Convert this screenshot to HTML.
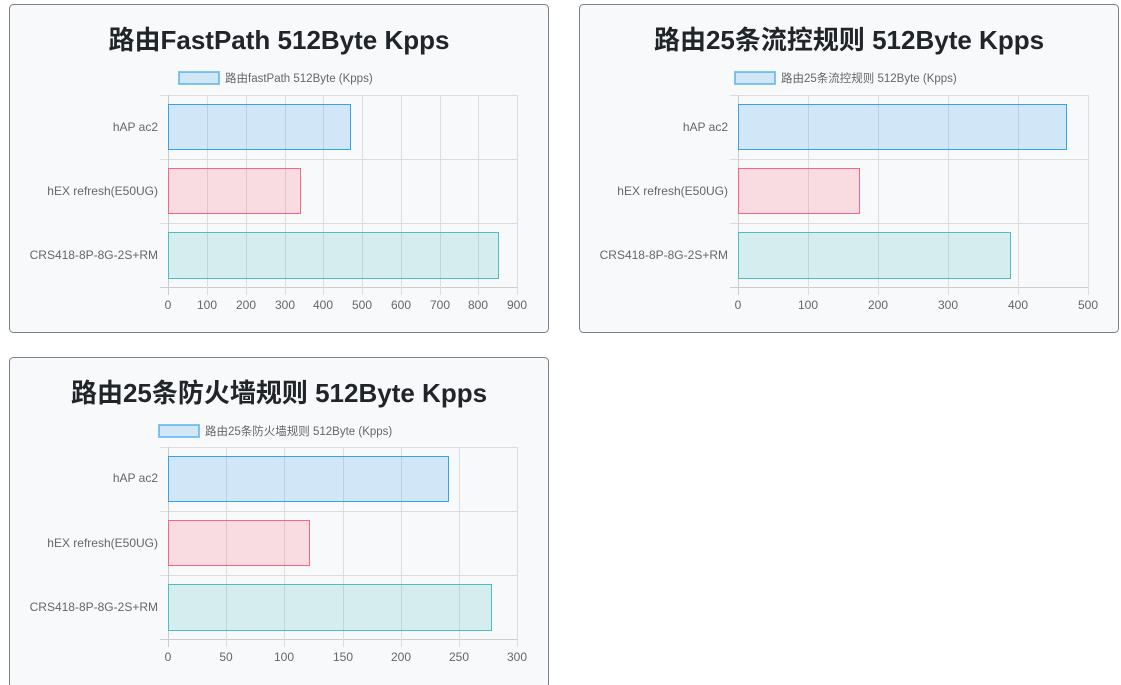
<!DOCTYPE html>
<html><head><meta charset="utf-8"><style>
html,body{margin:0;padding:0;background:#fff;width:1121px;height:685px;overflow:hidden}
svg{display:block}
.t{font-family:"Liberation Sans","Noto Sans CJK SC",sans-serif;font-weight:bold;font-size:26px;fill:#212529}
.l{font-family:"Liberation Sans","Noto Sans CJK SC",sans-serif;font-size:11.5px;fill:#666}
.c{font-family:"Liberation Sans","Noto Sans CJK SC",sans-serif;font-size:12px;fill:#666}
.g{stroke:#ddd;stroke-width:1}
</style></head><body>
<svg width="1121" height="685" xmlns="http://www.w3.org/2000/svg">
<!-- panels -->
<rect x="9.5" y="4.5" width="539" height="328" rx="4" fill="#f8f9fa" stroke="#7a818a"/>
<rect x="579.5" y="4.5" width="539" height="328" rx="4" fill="#f8f9fa" stroke="#7a818a"/>
<rect x="9.5" y="357.5" width="539" height="330" rx="4" fill="#f8f9fa" stroke="#7a818a"/>

<!-- Chart 1 -->
<g>
<text class="t" x="279" y="49" text-anchor="middle">路由FastPath 512Byte Kpps</text>
<rect x="179" y="72" width="40" height="12" fill="rgba(54,162,235,0.2)" stroke="rgba(54,162,235,0.6)" stroke-width="2"/>
<text class="l" x="225" y="82">路由fastPath 512Byte (Kpps)</text>
<g class="g">
<line x1="160" y1="95.5" x2="517" y2="95.5"/><line x1="160" y1="159.5" x2="517" y2="159.5"/><line x1="160" y1="223.5" x2="517" y2="223.5"/><line x1="160" y1="287.5" x2="517" y2="287.5" stroke="#ccc"/>
<line x1="168.5" y1="95" x2="168.5" y2="295" stroke="#ccc"/><line x1="207.5" y1="95" x2="207.5" y2="295"/><line x1="246.5" y1="95" x2="246.5" y2="295"/><line x1="285.5" y1="95" x2="285.5" y2="295"/><line x1="323.5" y1="95" x2="323.5" y2="295"/><line x1="362.5" y1="95" x2="362.5" y2="295"/><line x1="401.5" y1="95" x2="401.5" y2="295"/><line x1="440.5" y1="95" x2="440.5" y2="295"/><line x1="478.5" y1="95" x2="478.5" y2="295"/><line x1="517.5" y1="95" x2="517.5" y2="295"/>
</g>
<rect x="168.5" y="104.5" width="182" height="45" fill="rgba(54,162,235,0.2)" stroke="rgb(54,162,235)"/>
<rect x="168.5" y="168.5" width="132" height="45" fill="rgba(255,99,132,0.2)" stroke="rgb(255,99,132)"/>
<rect x="168.5" y="232.5" width="330" height="46" fill="rgba(75,192,192,0.2)" stroke="rgb(75,192,192)"/>
<g class="c" text-anchor="end"><text x="158" y="131">hAP ac2</text><text x="158" y="195">hEX refresh(E50UG)</text><text x="158" y="259">CRS418-8P-8G-2S+RM</text></g>
<g class="c" text-anchor="middle"><text x="168" y="309">0</text><text x="207" y="309">100</text><text x="246" y="309">200</text><text x="285" y="309">300</text><text x="323" y="309">400</text><text x="362" y="309">500</text><text x="401" y="309">600</text><text x="440" y="309">700</text><text x="478" y="309">800</text><text x="517" y="309">900</text></g>
</g>

<!-- Chart 2 -->
<g>
<text class="t" x="849" y="49" text-anchor="middle">路由25条流控规则 512Byte Kpps</text>
<rect x="735" y="72" width="40" height="12" fill="rgba(54,162,235,0.2)" stroke="rgba(54,162,235,0.6)" stroke-width="2"/>
<text class="l" x="781" y="82">路由25条流控规则 512Byte (Kpps)</text>
<g class="g">
<line x1="730" y1="95.5" x2="1088" y2="95.5"/><line x1="730" y1="159.5" x2="1088" y2="159.5"/><line x1="730" y1="223.5" x2="1088" y2="223.5"/><line x1="730" y1="287.5" x2="1088" y2="287.5" stroke="#ccc"/>
<line x1="738.5" y1="95" x2="738.5" y2="295" stroke="#ccc"/><line x1="808.5" y1="95" x2="808.5" y2="295"/><line x1="878.5" y1="95" x2="878.5" y2="295"/><line x1="948.5" y1="95" x2="948.5" y2="295"/><line x1="1018.5" y1="95" x2="1018.5" y2="295"/><line x1="1088.5" y1="95" x2="1088.5" y2="295"/>
</g>
<rect x="738.5" y="104.5" width="328" height="45" fill="rgba(54,162,235,0.2)" stroke="rgb(54,162,235)"/>
<rect x="738.5" y="168.5" width="121" height="45" fill="rgba(255,99,132,0.2)" stroke="rgb(255,99,132)"/>
<rect x="738.5" y="232.5" width="272" height="46" fill="rgba(75,192,192,0.2)" stroke="rgb(75,192,192)"/>
<g class="c" text-anchor="end"><text x="728" y="131">hAP ac2</text><text x="728" y="195">hEX refresh(E50UG)</text><text x="728" y="259">CRS418-8P-8G-2S+RM</text></g>
<g class="c" text-anchor="middle"><text x="738" y="309">0</text><text x="808" y="309">100</text><text x="878" y="309">200</text><text x="948" y="309">300</text><text x="1018" y="309">400</text><text x="1088" y="309">500</text></g>
</g>

<!-- Chart 3 -->
<g transform="translate(0,352)">
<text class="t" x="279" y="50" text-anchor="middle">路由25条防火墙规则 512Byte Kpps</text>
<rect x="159" y="73" width="40" height="12" fill="rgba(54,162,235,0.2)" stroke="rgba(54,162,235,0.6)" stroke-width="2"/>
<text class="l" x="205" y="83">路由25条防火墙规则 512Byte (Kpps)</text>
<g class="g">
<line x1="160" y1="95.5" x2="517" y2="95.5"/><line x1="160" y1="159.5" x2="517" y2="159.5"/><line x1="160" y1="223.5" x2="517" y2="223.5"/><line x1="160" y1="287.5" x2="517" y2="287.5" stroke="#ccc"/>
<line x1="168.5" y1="95" x2="168.5" y2="295" stroke="#ccc"/><line x1="226.5" y1="95" x2="226.5" y2="295"/><line x1="284.5" y1="95" x2="284.5" y2="295"/><line x1="343.5" y1="95" x2="343.5" y2="295"/><line x1="401.5" y1="95" x2="401.5" y2="295"/><line x1="459.5" y1="95" x2="459.5" y2="295"/><line x1="517.5" y1="95" x2="517.5" y2="295"/>
</g>
<rect x="168.5" y="104.5" width="280" height="45" fill="rgba(54,162,235,0.2)" stroke="rgb(54,162,235)"/>
<rect x="168.5" y="168.5" width="141" height="45" fill="rgba(255,99,132,0.2)" stroke="rgb(255,99,132)"/>
<rect x="168.5" y="232.5" width="323" height="46" fill="rgba(75,192,192,0.2)" stroke="rgb(75,192,192)"/>
<g class="c" text-anchor="end"><text x="158" y="130">hAP ac2</text><text x="158" y="195">hEX refresh(E50UG)</text><text x="158" y="259">CRS418-8P-8G-2S+RM</text></g>
<g class="c" text-anchor="middle"><text x="168" y="309">0</text><text x="226" y="309">50</text><text x="284" y="309">100</text><text x="343" y="309">150</text><text x="401" y="309">200</text><text x="459" y="309">250</text><text x="517" y="309">300</text></g>
</g>
</svg>
</body></html>
